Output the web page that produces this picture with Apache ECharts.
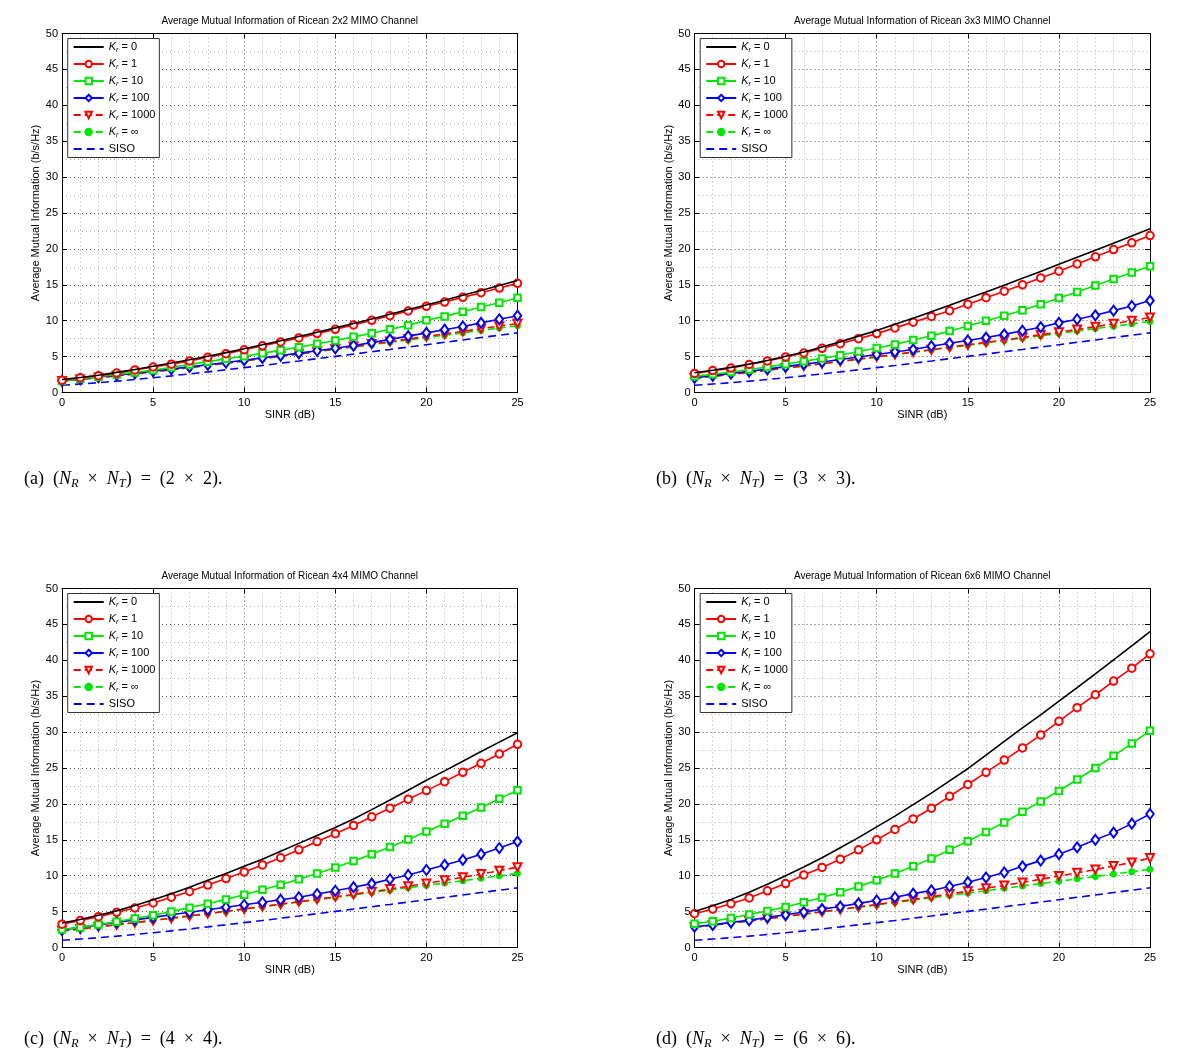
<!DOCTYPE html>
<html>
<head>
<meta charset="utf-8">
<script src="https://cdn.jsdelivr.net/npm/echarts@6/dist/echarts.min.js"></script>
<style>
html,body{margin:0;padding:0;background:#fff;}
#chart{width:1200px;height:1061px;}
</style>
</head>
<body>
<div id="chart"></div>
<script>
// ---------------- DATA ----------------
const sinr = [0,1,2,3,4,5,6,7,8,9,10,11,12,13,14,15,16,17,18,19,20,21,22,23,24,25];
const seriesNames = ['K0','K1','K10','K100','K1000','Kinf','SISO'];
const legendLabels = ['0','1','10','100','1000','\u221e'];
const panelLetters = ['a','b','c','d'];
const panelSizes = ['2','3','4','6'];
const xTickLabels = ['0','5','10','15','20','25'];
const yTickLabels = ['0','5','10','15','20','25','30','35','40','45','50'];

const siso = [1.00,1.18,1.37,1.58,1.81,2.06,2.32,2.59,2.87,3.16,3.46,3.76,4.08,4.39,4.71,5.03,5.35,5.68,6.00,6.33,6.66,6.99,7.32,7.65,7.98,8.31];

// (a) 2x2
const a_k0    = [1.80,2.10,2.40,2.80,3.20,3.65,4.10,4.55,5.05,5.55,6.10,6.65,7.20,7.80,8.40,9.00,9.60,10.25,10.90,11.55,12.20,12.85,13.55,14.20,14.90,15.60];
const a_k1    = [1.70,2.05,2.35,2.70,3.15,3.55,3.95,4.40,4.90,5.40,5.95,6.50,7.05,7.60,8.20,8.80,9.40,10.05,10.70,11.35,12.00,12.60,13.25,13.90,14.55,15.20];
const a_k10   = [1.60,1.90,2.20,2.50,2.80,3.10,3.50,3.90,4.30,4.70,5.05,5.45,5.90,6.30,6.80,7.25,7.75,8.25,8.80,9.35,10.05,10.60,11.25,11.90,12.50,13.20];
const a_k100  = [1.60,1.88,2.15,2.42,2.70,2.98,3.27,3.57,3.87,4.18,4.50,4.82,5.15,5.48,5.82,6.17,6.55,6.95,7.40,7.85,8.30,8.75,9.20,9.70,10.20,10.70];
const a_k1000 = [1.59,1.82,2.07,2.33,2.60,2.88,3.17,3.47,3.78,4.09,4.41,4.73,5.06,5.39,5.72,6.06,6.40,6.74,7.09,7.44,7.80,8.16,8.52,8.88,9.24,9.60];
const a_kinf  = [1.58,1.82,2.06,2.32,2.59,2.87,3.16,3.46,3.77,4.08,4.39,4.71,5.03,5.35,5.68,6.01,6.33,6.66,6.99,7.32,7.65,7.98,8.31,8.64,8.98,9.31];

// (b) 3x3
const b_k0    = [2.75,3.10,3.50,3.95,4.45,5.05,5.65,6.35,7.05,7.85,8.65,9.50,10.35,11.25,12.15,13.10,14.00,14.95,15.90,16.85,17.85,18.85,19.80,20.80,21.80,22.80];
const b_k1    = [2.65,3.05,3.40,3.90,4.40,4.95,5.50,6.15,6.80,7.50,8.20,9.00,9.80,10.60,11.40,12.30,13.20,14.10,15.00,15.95,16.90,17.90,18.90,19.90,20.85,21.85];
const b_k10   = [2.25,2.55,2.85,3.20,3.55,3.95,4.35,4.75,5.20,5.70,6.20,6.70,7.30,7.90,8.55,9.25,10.00,10.70,11.45,12.30,13.15,14.00,14.90,15.80,16.70,17.60];
const b_k100  = [2.05,2.35,2.65,2.95,3.25,3.60,3.95,4.25,4.60,4.95,5.30,5.65,6.00,6.45,6.85,7.25,7.65,8.10,8.60,9.10,9.70,10.20,10.75,11.40,12.05,12.80];
const b_k1000 = [2.00,2.26,2.53,2.81,3.10,3.40,3.70,4.01,4.33,4.65,4.97,5.30,5.63,5.96,6.30,6.64,6.98,7.33,7.68,8.04,8.40,8.78,9.17,9.57,10.00,10.45];
const b_kinf  = [2.00,2.26,2.53,2.80,3.09,3.39,3.69,4.00,4.32,4.63,4.95,5.28,5.60,5.93,6.26,6.58,6.91,7.24,7.57,7.90,8.23,8.57,8.90,9.23,9.56,9.89];

// (c) 4x4
const c_k0    = [3.40,3.90,4.50,5.10,5.85,6.65,7.50,8.40,9.35,10.30,11.30,12.30,13.40,14.50,15.60,16.70,17.90,19.20,20.55,21.90,23.30,24.60,25.95,27.30,28.60,29.90];
const c_k1    = [3.25,3.75,4.30,4.90,5.50,6.20,7.00,7.80,8.70,9.60,10.50,11.50,12.50,13.60,14.75,15.85,17.00,18.20,19.40,20.65,21.85,23.10,24.40,25.65,26.95,28.30];
const c_k10   = [2.50,2.80,3.20,3.60,4.05,4.50,5.00,5.55,6.10,6.70,7.35,8.05,8.75,9.50,10.30,11.15,12.05,13.00,14.00,15.05,16.15,17.25,18.35,19.50,20.70,21.90];
const c_k100  = [2.45,2.80,3.15,3.50,3.85,4.20,4.55,4.90,5.25,5.60,5.95,6.30,6.65,7.00,7.45,7.90,8.40,8.90,9.50,10.10,10.80,11.50,12.20,13.00,13.85,14.75];
const c_k1000 = [2.32,2.59,2.88,3.17,3.47,3.77,4.08,4.40,4.72,5.04,5.37,5.70,6.03,6.37,6.71,7.05,7.40,7.77,8.14,8.53,8.93,9.35,9.78,10.23,10.70,11.18];
const c_kinf  = [2.32,2.59,2.88,3.17,3.47,3.77,4.08,4.40,4.71,5.03,5.36,5.68,6.01,6.34,6.67,6.99,7.32,7.66,7.99,8.32,8.65,8.98,9.31,9.64,9.97,10.31];

// (d) 6x6
const d_k0    = [5.00,5.80,6.70,7.70,8.80,10.00,11.20,12.50,13.90,15.30,16.80,18.30,19.90,21.50,23.20,24.90,26.80,28.70,30.60,32.40,34.30,36.20,38.10,40.05,42.00,44.00];
const d_k1    = [4.70,5.35,6.10,6.90,7.90,8.90,10.10,11.15,12.30,13.60,15.00,16.45,17.90,19.40,21.05,22.70,24.40,26.10,27.80,29.60,31.50,33.40,35.20,37.10,38.90,40.90];
const d_k10   = [3.30,3.65,4.10,4.60,5.10,5.65,6.30,6.95,7.70,8.50,9.35,10.30,11.30,12.40,13.60,14.80,16.10,17.40,18.90,20.35,21.80,23.40,25.00,26.70,28.40,30.20];
const d_k100  = [2.90,3.15,3.50,3.80,4.20,4.55,4.95,5.35,5.70,6.15,6.55,7.00,7.50,7.95,8.50,9.10,9.75,10.45,11.30,12.10,13.00,13.95,15.00,16.00,17.25,18.60];
const d_k1000 = [2.81,3.10,3.40,3.70,4.01,4.33,4.65,4.98,5.30,5.65,6.00,6.35,6.70,7.05,7.45,7.85,8.25,8.65,9.05,9.50,9.95,10.40,10.85,11.35,11.85,12.45];
const d_kinf  = [2.81,3.10,3.39,3.70,4.01,4.32,4.64,4.96,5.28,5.61,5.93,6.26,6.59,6.92,7.25,7.58,7.91,8.24,8.57,8.90,9.23,9.56,9.89,10.23,10.56,10.89];

const panelData = [
  [a_k0,a_k1,a_k10,a_k100,a_k1000,a_kinf,siso],
  [b_k0,b_k1,b_k10,b_k100,b_k1000,b_kinf,siso],
  [c_k0,c_k1,c_k10,c_k100,c_k1000,c_kinf,siso],
  [d_k0,d_k1,d_k10,d_k100,d_k1000,d_kinf,siso]
];

// ---------------- STYLE ----------------
const SANS = '"Liberation Sans", Arial, Helvetica, sans-serif';
const SERIF = '"Liberation Serif", "Times New Roman", serif';
const RED = '#ff0000', GREEN = '#00e600', BLUE = '#0000ff', BLACK = '#000000';

const grids = [
  {left: 62,    top: 33.5,  width: 455.5, height: 359},
  {left: 694.5, top: 33.5,  width: 455.5, height: 359},
  {left: 62,    top: 588.5, width: 455.5, height: 359},
  {left: 694.5, top: 588.5, width: 455.5, height: 359}
];

const seriesStyle = [
  {color: BLACK, symbol: 'none', dash: 'solid'},
  {color: RED,   symbol: 'emptyCircle', size: 7.5, dash: 'solid'},
  {color: GREEN, symbol: 'emptyRect', size: 6.5, dash: 'solid'},
  {color: BLUE,  symbol: 'emptyDiamond', size: [7.5, 10], dash: 'solid'},
  {color: RED,   symbol: 'emptyTriangle', size: 8, rotate: 180, dash: [7, 4]},
  {color: GREEN, symbol: 'circle', size: 5.5, dash: [7, 4]},
  {color: BLUE,  symbol: 'none', dash: [8, 5]}
];

const xAxes = [], yAxes = [], series = [], legends = [], graphics = [];
const SP = '\u2002';

grids.forEach((g, gi) => {
  const commonLine = {show: true, onZero: false, lineStyle: {color: '#000', width: 1}};
  const tick = {show: true, inside: true, length: 5, lineStyle: {color: '#000', width: 1}};
  xAxes.push({
    gridIndex: gi, type: 'value', min: 0, max: 25, interval: 5, position: 'bottom',
    axisLine: commonLine, axisTick: tick,
    axisLabel: {color: '#000', fontSize: 11, fontFamily: SANS, margin: 5,
      formatter: v => xTickLabels[Math.round(v / 5)]},
    splitLine: {show: true, lineStyle: {color: '#555', type: [1, 3], width: 1}},
    minorTick: {show: false, splitNumber: 5},
    minorSplitLine: {show: true, lineStyle: {color: '#aaa', type: [1, 3], width: 1}},
    name: 'SINR (dB)', nameLocation: 'middle', nameGap: 17,
    nameTextStyle: {color: '#000', fontSize: 11, fontFamily: SANS}
  });
  xAxes.push({
    gridIndex: gi, type: 'value', min: 0, max: 25, interval: 5, position: 'top',
    axisLine: commonLine, axisTick: tick, axisLabel: {show: false}, splitLine: {show: false}
  });
  yAxes.push({
    gridIndex: gi, type: 'value', min: 0, max: 50, interval: 5, position: 'left',
    axisLine: commonLine, axisTick: tick,
    axisLabel: {color: '#000', fontSize: 11, fontFamily: SANS, margin: 4,
      formatter: v => yTickLabels[Math.round(v / 5)]},
    splitLine: {show: true, lineStyle: {color: '#555', type: [1, 3], width: 1}},
    minorTick: {show: false, splitNumber: 2},
    minorSplitLine: {show: true, lineStyle: {color: '#aaa', type: [1, 3], width: 1}},
    name: 'Average Mutual Information (b/s/Hz)', nameLocation: 'middle', nameGap: 20,
    nameTextStyle: {color: '#000', fontSize: 11, fontFamily: SANS}
  });
  yAxes.push({
    gridIndex: gi, type: 'value', min: 0, max: 50, interval: 5, position: 'right',
    axisLine: commonLine, axisTick: tick, axisLabel: {show: false}, splitLine: {show: false}
  });

  panelData[gi].forEach((arr, si) => {
    const st = seriesStyle[si];
    const s = {
      type: 'line', name: seriesNames[si],
      xAxisIndex: gi * 2, yAxisIndex: gi * 2,
      data: sinr.map((x, i) => [x, arr[i]]),
      symbol: st.symbol,
      showSymbol: st.symbol !== 'none',
      lineStyle: {color: st.color, width: 1.6, type: st.dash},
      itemStyle: {color: st.color, borderColor: st.color, borderWidth: 1.3},
      emphasis: {disabled: true}, animation: false, z: 10 - si
    };
    if (st.size) s.symbolSize = st.size;
    if (st.rotate) s.symbolRotate = st.rotate;
    series.push(s);
  });

  legends.push({
    orient: 'vertical', left: g.left + 5.7, top: g.top + 5,
    backgroundColor: '#fff', borderColor: '#333', borderWidth: 1,
    padding: [3, 4, 3, 5], itemGap: 5, itemWidth: 30, itemHeight: 8,
    selectedMode: false,
    data: seriesNames.map((n, i) => (seriesStyle[i].symbol === 'none')
      ? {name: n, itemStyle: {color: 'rgba(0,0,0,0)', borderColor: 'rgba(0,0,0,0)', borderWidth: 0}}
      : {name: n}),
    textStyle: {color: '#000', fontSize: 11, fontFamily: SANS,
      rich: {
        k: {fontStyle: 'italic', fontSize: 11, fontFamily: SANS, lineHeight: 13},
        s: {fontStyle: 'italic', fontSize: 7, fontFamily: SANS, verticalAlign: 'bottom', lineHeight: 7},
        t: {fontSize: 11, fontFamily: SANS, lineHeight: 13}
      }},
    formatter: name => {
      const i = seriesNames.indexOf(name);
      if (i < 6) return '{k|K}{s|r}{t| = ' + legendLabels[i] + '}';
      return '{t|SISO}';
    }
  });

  graphics.push({
    type: 'text', x: g.left + g.width / 2, y: g.top - 12,
    style: {text: 'Average Mutual Information of Ricean ' + panelSizes[gi] + 'x' + panelSizes[gi] + ' MIMO Channel',
      fill: '#000', font: '10px ' + SANS, textAlign: 'center', textVerticalAlign: 'middle'}
  });
  graphics.push({
    type: 'text', x: gi % 2 === 0 ? 24 : 656, y: gi < 2 ? 479 : 1039,
    style: {
      text: '{r|(' + panelLetters[gi] + ')' + SP + '(}{n|N}{sub|R}{r|' + SP + '\u00d7' + SP + '}{n|N}{sub|T}{r|)' + SP + '=' + SP + '(' + panelSizes[gi] + SP + '\u00d7' + SP + panelSizes[gi] + ').}',
      fill: '#000', textAlign: 'left', textVerticalAlign: 'middle',
      rich: {
        r: {fontFamily: SERIF, fontSize: 18, lineHeight: 22, fill: '#000'},
        n: {fontFamily: SERIF, fontSize: 18, fontStyle: 'italic', lineHeight: 22, fill: '#000'},
        sub: {fontFamily: SERIF, fontSize: 12.5, fontStyle: 'italic', verticalAlign: 'bottom', lineHeight: 12, fill: '#000'}
      }
    }
  });
});

const chart = echarts.init(document.getElementById('chart'), null, {renderer: 'canvas'});
chart.setOption({
  backgroundColor: '#fff',
  animation: false,
  grid: grids.map(g => Object.assign({show: false}, g)),
  xAxis: xAxes,
  yAxis: yAxes,
  legend: legends,
  series: series,
  graphic: graphics
});
</script>
</body>
</html>
